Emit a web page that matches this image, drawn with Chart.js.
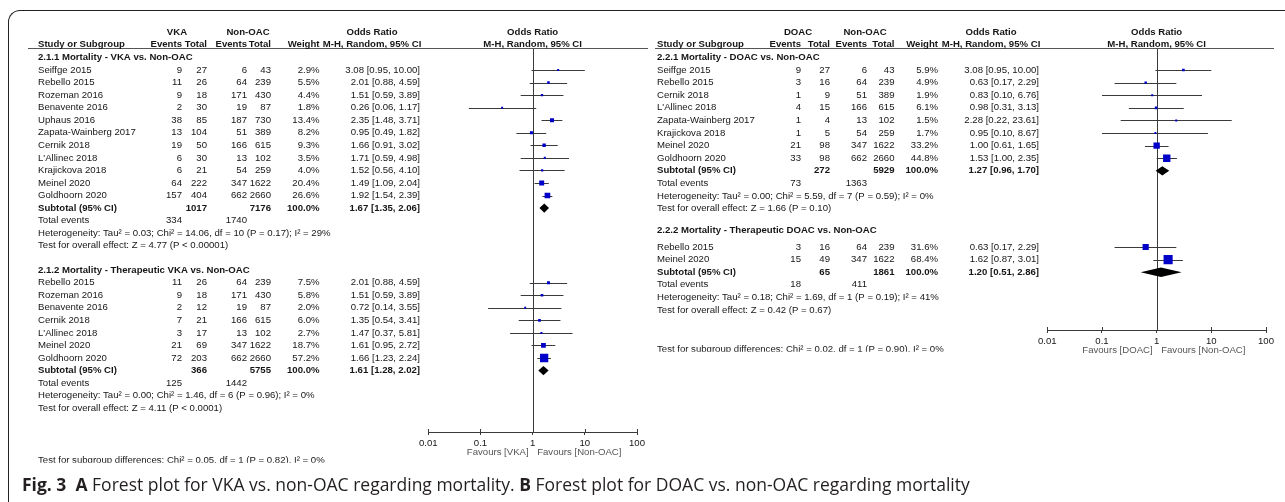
<!DOCTYPE html>
<html>
<head>
<meta charset="utf-8">
<script src="https://cdn.jsdelivr.net/npm/chart.js@4.4.1/dist/chart.umd.min.js"></script>
<style>
html, body { margin: 0; padding: 0; background: #fff; }
#wrap { position: relative; width: 1285px; height: 502px; overflow: hidden; }
#frame { position: absolute; left: 8px; top: 10px; width: 1320px; height: 540px;
         border-left: 1.3px solid #222; border-top: 1.3px solid #222; border-top-left-radius: 12px; }
canvas { position: absolute; left: 0; top: 0; }
#caption { position: absolute; left: 22px; top: 474px; font: 17.5px 'Open Sans', sans-serif;
           line-height: 20px; color: #231f20; white-space: nowrap; }
#caption b { font-weight: 700; }
</style>
</head>
<body>
<div id="wrap">
  <div id="frame"></div>
  <canvas id="chartA" width="1285" height="502"></canvas>
  <canvas id="chartB" width="1285" height="502"></canvas>
  <div id="caption"><b>Fig. 3</b>&nbsp; <b>A</b> Forest plot for VKA vs. non-OAC regarding mortality. <b>B</b> Forest plot for DOAC vs. non-OAC regarding mortality</div>
</div>
<script>
// axis ticks
const xTicks = [0.01, 0.1, 1, 10, 100];
const xTickLabels = ["0.01", "0.1", "1", "10", "100"];

// study, events, total, non-OAC events, non-OAC total, weight %, OR, lower, upper
const vkaAll = [
    ["Seiffge 2015", 9, 27, 6, 43, 2.9, 3.08, 0.95, 10.00],
    ["Rebello 2015", 11, 26, 64, 239, 5.5, 2.01, 0.88, 4.59],
    ["Rozeman 2016", 9, 18, 171, 430, 4.4, 1.51, 0.59, 3.89],
    ["Benavente 2016", 2, 30, 19, 87, 1.8, 0.26, 0.06, 1.17],
    ["Uphaus 2016", 38, 85, 187, 730, 13.4, 2.35, 1.48, 3.71],
    ["Zapata-Wainberg 2017", 13, 104, 51, 389, 8.2, 0.95, 0.49, 1.82],
    ["Cernik 2018", 19, 50, 166, 615, 9.3, 1.66, 0.91, 3.02],
    ["L'Allinec 2018", 6, 30, 13, 102, 3.5, 1.71, 0.59, 4.98],
    ["Krajickova 2018", 6, 21, 54, 259, 4.0, 1.52, 0.56, 4.10],
    ["Meinel 2020", 64, 222, 347, 1622, 20.4, 1.49, 1.09, 2.04],
    ["Goldhoorn 2020", 157, 404, 662, 2660, 26.6, 1.92, 1.54, 2.39]
];
// total, non-OAC total, weight, OR, lower, upper
const vkaAllSub = [1017, 7176, 100.0, 1.67, 1.35, 2.06];
const vkaAllEvents = [334, 1740];
const vkaAllStats = ["Heterogeneity: Tau\u00b2 = 0.03; Chi\u00b2 = 14.06, df = 10 (P = 0.17); I\u00b2 = 29%",
                     "Test for overall effect: Z = 4.77 (P < 0.00001)"];

const vkaTher = [
    ["Rebello 2015", 11, 26, 64, 239, 7.5, 2.01, 0.88, 4.59],
    ["Rozeman 2016", 9, 18, 171, 430, 5.8, 1.51, 0.59, 3.89],
    ["Benavente 2016", 2, 12, 19, 87, 2.0, 0.72, 0.14, 3.55],
    ["Cernik 2018", 7, 21, 166, 615, 6.0, 1.35, 0.54, 3.41],
    ["L'Allinec 2018", 3, 17, 13, 102, 2.7, 1.47, 0.37, 5.81],
    ["Meinel 2020", 21, 69, 347, 1622, 18.7, 1.61, 0.95, 2.72],
    ["Goldhoorn 2020", 72, 203, 662, 2660, 57.2, 1.66, 1.23, 2.24]
];
const vkaTherSub = [366, 5755, 100.0, 1.61, 1.28, 2.02];
const vkaTherEvents = [125, 1442];
const vkaTherStats = ["Heterogeneity: Tau\u00b2 = 0.00; Chi\u00b2 = 1.46, df = 6 (P = 0.96); I\u00b2 = 0%",
                      "Test for overall effect: Z = 4.11 (P < 0.0001)"];
const vkaDiff = "Test for subgroup differences: Chi\u00b2 = 0.05, df = 1 (P = 0.82), I\u00b2 = 0%";

const doacAll = [
    ["Seiffge 2015", 9, 27, 6, 43, 5.9, 3.08, 0.95, 10.00],
    ["Rebello 2015", 3, 16, 64, 239, 4.9, 0.63, 0.17, 2.29],
    ["Cernik 2018", 1, 9, 51, 389, 1.9, 0.83, 0.10, 6.76],
    ["L'Allinec 2018", 4, 15, 166, 615, 6.1, 0.98, 0.31, 3.13],
    ["Zapata-Wainberg 2017", 1, 4, 13, 102, 1.5, 2.28, 0.22, 23.61],
    ["Krajickova 2018", 1, 5, 54, 259, 1.7, 0.95, 0.10, 8.67],
    ["Meinel 2020", 21, 98, 347, 1622, 33.2, 1.00, 0.61, 1.65],
    ["Goldhoorn 2020", 33, 98, 662, 2660, 44.8, 1.53, 1.00, 2.35]
];
const doacAllSub = [272, 5929, 100.0, 1.27, 0.96, 1.70];
const doacAllEvents = [73, 1363];
const doacAllStats = ["Heterogeneity: Tau\u00b2 = 0.00; Chi\u00b2 = 5.59, df = 7 (P = 0.59); I\u00b2 = 0%",
                      "Test for overall effect: Z = 1.66 (P = 0.10)"];

const doacTher = [
    ["Rebello 2015", 3, 16, 64, 239, 31.6, 0.63, 0.17, 2.29],
    ["Meinel 2020", 15, 49, 347, 1622, 68.4, 1.62, 0.87, 3.01]
];
const doacTherSub = [65, 1861, 100.0, 1.20, 0.51, 2.86];
const doacTherEvents = [18, 411];
const doacTherStats = ["Heterogeneity: Tau\u00b2 = 0.18; Chi\u00b2 = 1.69, df = 1 (P = 0.19); I\u00b2 = 41%",
                       "Test for overall effect: Z = 0.42 (P = 0.67)"];
const doacDiff = "Test for subgroup differences: Chi\u00b2 = 0.02, df = 1 (P = 0.90), I\u00b2 = 0%";

const W = 1285, H = 502;
const FONT = "'Liberation Sans', Arial, sans-serif";
const FS = 9.6;
const INK = "#161616";
const LINE = "#3a3a3a";
const BLUE = "#0000c8";

const panelA = {
    arms: ["VKA", "Non-OAC"],
    favours: ["Favours [VKA]", "Favours [Non-OAC]"],
    diff: vkaDiff,
    groups: [
        { title: "2.1.1 Mortality - VKA vs. Non-OAC", rows: vkaAll, sub: vkaAllSub, events: vkaAllEvents, stats: vkaAllStats },
        { title: "2.1.2 Mortality - Therapeutic VKA vs. Non-OAC", rows: vkaTher, sub: vkaTherSub, events: vkaTherEvents, stats: vkaTherStats }
    ],
    // layout (pixels / row units)
    rowH: 12.55, row0: 70, top: 48, axisY: 432, plotLeft: 428.3, plotRight: 637,
    labelRows: [-1, 16], startRows: [0, 16.95], head1: -3, head2: -2.07, diffRow: 31.1,
    rule: [28, 648],
    cols: { name: 38, ev1: 182, tot1: 207, ev2: 247, tot2: 271, weight: 319.5, ci: 420, arm1: 177, arm2: 248, orHead: 372 }
};

const panelB = {
    arms: ["DOAC", "Non-OAC"],
    favours: ["Favours [DOAC]", "Favours [Non-OAC]"],
    diff: doacDiff,
    groups: [
        { title: "2.2.1 Mortality - DOAC vs. Non-OAC", rows: doacAll, sub: doacAllSub, events: doacAllEvents, stats: doacAllStats },
        { title: "2.2.2 Mortality - Therapeutic DOAC vs. Non-OAC", rows: doacTher, sub: doacTherSub, events: doacTherEvents, stats: doacTherStats }
    ],
    rowH: 12.6, row0: 70, top: 48, axisY: 330, plotLeft: 1047.3, plotRight: 1266,
    labelRows: [-1.03, 12.75], startRows: [0, 14.05], head1: -3.02, head2: -2.06, diffRow: 22.17,
    rule: [655, 1274],
    cols: { name: 657, ev1: 801, tot1: 830, ev2: 867, tot2: 894.5, weight: 938, ci: 1039, arm1: 798, arm2: 865, orHead: 991 }
};

function layoutRows(p) {
    p.groups.forEach((g, gi) => {
        g.labelRow = p.labelRows[gi];
        g.studyRows = g.rows.map((_, i) => p.startRows[gi] + i);
        g.subRow = p.startRows[gi] + g.rows.length;
        g.eventsRow = g.subRow + 1;
        g.hetRow = g.subRow + 2;
        g.testRow = g.subRow + 3;
    });
}

function ciText(or, lo, hi) {
    return or.toFixed(2) + " [" + lo.toFixed(2) + ", " + hi.toFixed(2) + "]";
}

function txt(ctx, s, x, y, align, bold, color) {
    ctx.font = (bold ? "bold " : "") + FS + "px " + FONT;
    ctx.textAlign = align || "left";
    ctx.textBaseline = "middle";
    ctx.fillStyle = color || INK;
    ctx.fillText(s, x, y);
}

function forestPlugin(p) {
    return {
        id: "forest",
        beforeDatasetsDraw(chart) {
            const { ctx, chartArea: a, scales: { x, y } } = chart;
            ctx.save();
            ctx.strokeStyle = LINE;
            ctx.lineWidth = 1;
            const x1 = Math.round(x.getPixelForValue(1)) + 0.5;
            ctx.beginPath();
            ctx.moveTo(x1, a.top);
            ctx.lineTo(x1, a.bottom);
            ctx.stroke();
            p.groups.forEach(g => g.rows.forEach((s, i) => {
                const yy = Math.round(y.getPixelForValue(g.studyRows[i])) + 0.5;
                ctx.beginPath();
                ctx.moveTo(x.getPixelForValue(s[7]), yy);
                ctx.lineTo(x.getPixelForValue(s[8]), yy);
                ctx.stroke();
            }));
            // tick marks also poke above the axis line
            xTicks.forEach(v => {
                const tx = Math.round(x.getPixelForValue(v)) + 0.5;
                ctx.beginPath();
                ctx.moveTo(tx, a.bottom - 3);
                ctx.lineTo(tx, a.bottom);
                ctx.stroke();
            });
            ctx.restore();
        },
        afterDatasetsDraw(chart) {
            const { ctx, scales: { x, y } } = chart;
            ctx.save();
            ctx.fillStyle = "#000";
            p.groups.forEach(g => {
                const [, , , or, lo, hi] = g.sub;
                const r = g.subRow;
                ctx.beginPath();
                ctx.moveTo(x.getPixelForValue(lo), y.getPixelForValue(r));
                ctx.lineTo(x.getPixelForValue(or), y.getPixelForValue(r - 0.37));
                ctx.lineTo(x.getPixelForValue(hi), y.getPixelForValue(r));
                ctx.lineTo(x.getPixelForValue(or), y.getPixelForValue(r + 0.37));
                ctx.closePath();
                ctx.fill();
            });
            ctx.restore();
        },
        afterDraw(chart) {
            const { ctx, chartArea: a, scales: { x, y } } = chart;
            const c = p.cols;
            const py = r => y.getPixelForValue(r);
            const xc = x.getPixelForValue(1);
            ctx.save();
            // header rule
            ctx.strokeStyle = "#555";
            ctx.lineWidth = 1.2;
            ctx.beginPath();
            ctx.moveTo(p.rule[0], a.top + 0.5);
            ctx.lineTo(p.rule[1], a.top + 0.5);
            ctx.stroke();

            // headers
            txt(ctx, p.arms[0], c.arm1, py(p.head1), "center", true);
            txt(ctx, p.arms[1], c.arm2, py(p.head1), "center", true);
            txt(ctx, "Odds Ratio", c.orHead, py(p.head1), "center", true);
            txt(ctx, "Odds Ratio", xc, py(p.head1), "center", true);
            const h2 = py(p.head2);
            txt(ctx, "Study or Subgroup", c.name, h2, "left", true);
            txt(ctx, "Events", c.ev1, h2, "right", true);
            txt(ctx, "Total", c.tot1, h2, "right", true);
            txt(ctx, "Events", c.ev2, h2, "right", true);
            txt(ctx, "Total", c.tot2, h2, "right", true);
            txt(ctx, "Weight", c.weight, h2, "right", true);
            txt(ctx, "M-H, Random, 95% CI", c.orHead, h2, "center", true);
            txt(ctx, "M-H, Random, 95% CI", xc, h2, "center", true);

            p.groups.forEach(g => {
                txt(ctx, g.title, c.name, py(g.labelRow), "left", true);
                g.rows.forEach((s, i) => {
                    const yy = py(g.studyRows[i]);
                    txt(ctx, s[0], c.name, yy);
                    txt(ctx, String(s[1]), c.ev1, yy, "right");
                    txt(ctx, String(s[2]), c.tot1, yy, "right");
                    txt(ctx, String(s[3]), c.ev2, yy, "right");
                    txt(ctx, String(s[4]), c.tot2, yy, "right");
                    txt(ctx, s[5].toFixed(1) + "%", c.weight, yy, "right");
                    txt(ctx, ciText(s[6], s[7], s[8]), c.ci, yy, "right");
                });
                const ys = py(g.subRow);
                txt(ctx, "Subtotal (95% CI)", c.name, ys, "left", true);
                txt(ctx, String(g.sub[0]), c.tot1, ys, "right", true);
                txt(ctx, String(g.sub[1]), c.tot2, ys, "right", true);
                txt(ctx, g.sub[2].toFixed(1) + "%", c.weight, ys, "right", true);
                txt(ctx, ciText(g.sub[3], g.sub[4], g.sub[5]), c.ci, ys, "right", true);
                const ye = py(g.eventsRow);
                txt(ctx, "Total events", c.name, ye);
                txt(ctx, String(g.events[0]), c.ev1, ye, "right");
                txt(ctx, String(g.events[1]), c.ev2, ye, "right");
                txt(ctx, g.stats[0], c.name, py(g.hetRow));
                txt(ctx, g.stats[1], c.name, py(g.testRow));
            });

            // subgroup differences line, cut off at the bottom as in the source
            const yd = py(p.diffRow);
            ctx.save();
            ctx.beginPath();
            ctx.rect(c.name - 2, yd - 10, 400, 12.5);
            ctx.clip();
            txt(ctx, p.diff, c.name, yd);
            ctx.restore();

            // favours labels
            const yf = a.bottom + 20.5;
            txt(ctx, p.favours[0], xc - 4, yf, "right", false, "#555");
            txt(ctx, p.favours[1], xc + 4.5, yf, "left", false, "#555");
            ctx.restore();
        }
    };
}

function makeForest(canvasId, p) {
    layoutRows(p);
    const pts = [];
    const radii = [];
    p.groups.forEach(g => g.rows.forEach((s, i) => {
        pts.push({ x: s[6], y: g.studyRows[i] });
        radii.push(Math.max(2, 1.1 * Math.sqrt(s[5])) / Math.SQRT2);
    }));
    const axisH = 20;
    const ctx = document.getElementById(canvasId);
    return new Chart(ctx, {
        type: "scatter",
        data: {
            datasets: [{
                data: pts,
                pointStyle: "rect",
                pointRadius: radii,
                pointHoverRadius: radii,
                backgroundColor: BLUE,
                borderWidth: 0
            }]
        },
        options: {
            responsive: false,
            animation: false,
            events: [],
            layout: {
                padding: { left: p.plotLeft, right: W - p.plotRight, top: p.top, bottom: H - p.axisY - axisH }
            },
            plugins: {
                legend: { display: false },
                tooltip: { enabled: false }
            },
            scales: {
                x: {
                    type: "logarithmic",
                    min: 0.01,
                    max: 100,
                    afterBuildTicks: s => { s.ticks = xTicks.map(v => ({ value: v })); },
                    afterFit: s => { s.height = axisH; },
                    border: { display: true, color: LINE, width: 1 },
                    grid: { drawOnChartArea: false, drawTicks: true, tickLength: 3, color: LINE },
                    ticks: {
                        autoSkip: false,
                        maxRotation: 0,
                        padding: 3,
                        color: INK,
                        font: { family: FONT, size: FS },
                        callback: (v, i) => xTickLabels[i]
                    }
                },
                y: {
                    type: "linear",
                    display: false,
                    reverse: true,
                    min: (p.top - p.row0) / p.rowH,
                    max: (p.axisY - p.row0) / p.rowH
                }
            }
        },
        plugins: [forestPlugin(p)]
    });
}

makeForest("chartA", panelA);
makeForest("chartB", panelB);
</script>
</body>
</html>
